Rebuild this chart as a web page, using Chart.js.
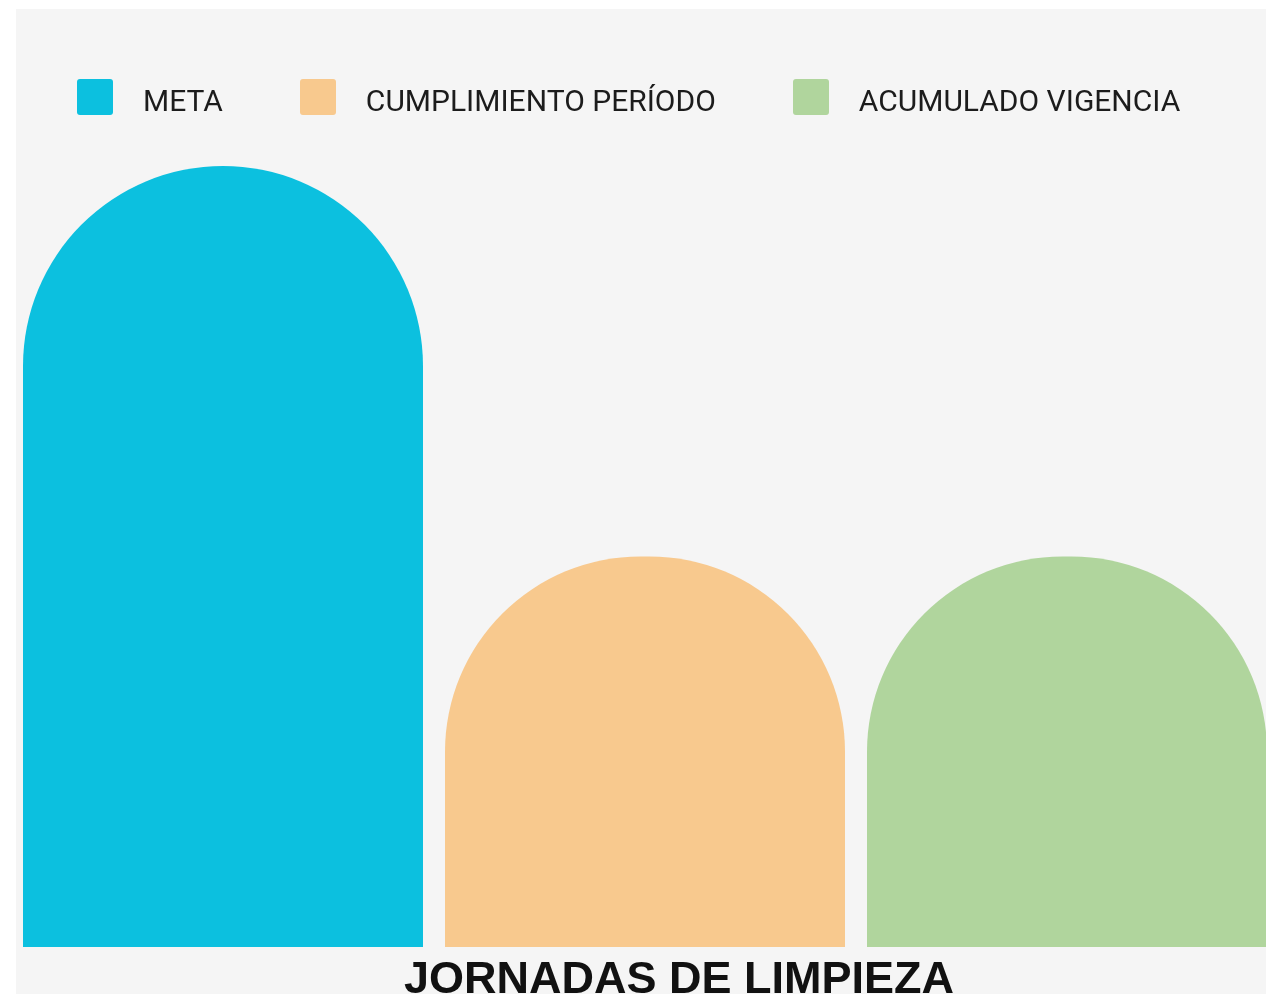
<!DOCTYPE html>
<html>
<head>
<meta charset="utf-8">
<script src="https://cdn.jsdelivr.net/npm/chart.js@4.4.1/dist/chart.umd.min.js"></script>
<style>
	html, body { margin: 0; padding: 0; background: #fff; overflow: hidden; width: 1266px; height: 994px; }
	#panel { position: absolute; left: 16px; top: 9px; width: 1300px; height: 1000px; background: #f5f5f5; }
	#chartBar { position: absolute; left: 12px; top: 9px; }
	#legend { position: absolute; left: 77px; top: 79px; margin: 0; padding: 0; list-style: none; display: flex; }
	#legend li { display: flex; align-items: center; margin-right: 77px; white-space: nowrap; }
	#legend .box { width: 36px; height: 36px; border-radius: 3px; }
	#legend .txt { margin-left: 30px; position: relative; top: 3px; font: 30px Roboto, sans-serif; color: #1c1c1c; }
</style>
</head>
<body>
<div id="panel"></div>
<canvas id="chartBar" width="1266" height="1005"></canvas>
<ul id="legend"></ul>
<script>
// datos del grafico
var categories = ['JORNADAS DE LIMPIEZA'];
var seriesNames = ['META', 'CUMPLIMIENTO PERÍODO', 'ACUMULADO VIGENCIA'];
var metaValues = [2];
var cumplimientoValues = [1];
var acumuladoValues = [1];

// leyenda en html, armada con los datasets del chart
var htmlLegend = {
	id: 'htmlLegend',
	afterUpdate: function(chart) {
		var ul = document.getElementById('legend');
		ul.innerHTML = '';
		chart.data.datasets.forEach(function(ds) {
			var li = document.createElement('li');
			var box = document.createElement('span');
			box.className = 'box';
			box.style.background = ds.backgroundColor;
			var txt = document.createElement('span');
			txt.className = 'txt';
			txt.textContent = ds.label;
			li.appendChild(box);
			li.appendChild(txt);
			ul.appendChild(li);
		});
	}
};

var myChart = new Chart(document.getElementById('chartBar'), {
	type: 'bar',
	data: {
		labels: categories,
		datasets: [
			{ label: seriesNames[0], data: metaValues, backgroundColor: '#0cc0df' },
			{ label: seriesNames[1], data: cumplimientoValues, backgroundColor: '#f8c98e' },
			{ label: seriesNames[2], data: acumuladoValues, backgroundColor: '#b0d59d' }
		]
	},
	options: {
		responsive: false,
		animation: false,
		layout: { padding: { top: 157, left: 0, right: 0, bottom: 0 } },
		datasets: {
			bar: { categoryPercentage: 1, barPercentage: 400 / 422, borderRadius: 200 }
		},
		plugins: {
			legend: { display: false },
			tooltip: { enabled: false }
		},
		scales: {
			x: {
				grid: { display: false, drawTicks: false },
				border: { display: false },
				ticks: {
					color: '#111',
					font: { family: 'Liberation Sans', weight: 'bold', size: 45, lineHeight: 1 },
					padding: 11,
					labelOffset: 34,
					maxRotation: 0,
					autoSkip: false
				}
			},
			y: { display: false, min: 0, max: 2 }
		}
	},
	plugins: [htmlLegend]
});
</script>
</body>
</html>
